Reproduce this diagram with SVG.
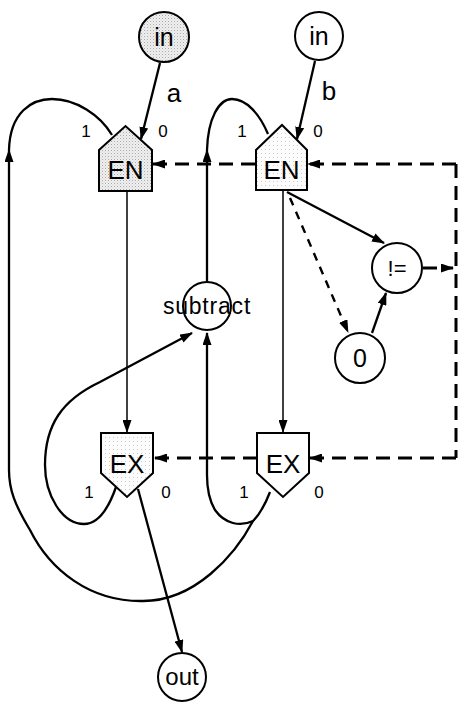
<svg xmlns="http://www.w3.org/2000/svg" width="459" height="702" viewBox="0 0 459 702">
<defs>
<marker id="ah" markerUnits="userSpaceOnUse" markerWidth="13" markerHeight="9" refX="12" refY="4.5" orient="auto"><path d="M0,0 L13,4.5 L0,9 z" fill="#000"/></marker>
<pattern id="stip" width="3" height="3" patternUnits="userSpaceOnUse"><rect width="3" height="3" fill="#f0f0f0"/><rect x="0" y="0" width="1" height="1" fill="#a8a8a8"/><rect x="1.5" y="1.5" width="1" height="1" fill="#c8c8c8"/></pattern>
<pattern id="stip2" width="4" height="4" patternUnits="userSpaceOnUse"><rect width="4" height="4" fill="#fcfcfc"/><rect x="1" y="1" width="1" height="1" fill="#cccccc"/></pattern>
</defs>
<style>
.n{stroke:#000;stroke-width:2;fill:#fff}
.g{fill:url(#stip)}
.g2{fill:url(#stip2)}
.t{font-family:"Liberation Sans",Arial,sans-serif;fill:#000;text-anchor:middle}
.c{fill:none;stroke:#000;stroke-width:2.3}
.thin{fill:none;stroke:#000;stroke-width:1.5}
.d{fill:none;stroke:#000;stroke-width:3;stroke-dasharray:14 8}
.ds{fill:none;stroke:#000;stroke-width:2.4;stroke-dasharray:8 7}
.l{font-size:17px}
</style>
<rect width="459" height="702" fill="#fff"/>
<g id="connectors">
<line class="c" x1="160" y1="63" x2="141" y2="139" marker-end="url(#ah)"/>
<line class="c" x1="315" y1="61" x2="297" y2="139" marker-end="url(#ah)"/>
<line class="thin" x1="127" y1="191" x2="127" y2="432" marker-end="url(#ah)"/>
<line class="thin" x1="283" y1="190" x2="283" y2="432" marker-end="url(#ah)"/>
<line class="c" x1="287" y1="192" x2="384" y2="243" stroke-width="2.6" marker-end="url(#ah)"/>
<line class="ds" x1="290" y1="198" x2="348" y2="332" marker-end="url(#ah)"/>
<line class="c" x1="372" y1="333" x2="386" y2="293" marker-end="url(#ah)"/>
<line class="d" x1="423" y1="268" x2="453" y2="268" stroke-dasharray="10 6" marker-end="url(#ah)"/>
<path class="d" d="M456,164 L456,458"/>
<path class="d" d="M456,164 L308,164" marker-end="url(#ah)"/>
<path class="d" d="M255,164 L153,164" marker-end="url(#ah)"/>
<path class="d" d="M456,458 L310,458" marker-end="url(#ah)"/>
<path class="d" d="M257,458 L155,458" marker-end="url(#ah)"/>
<line class="c" x1="138" y1="489" x2="182" y2="652" stroke-width="1.8" marker-end="url(#ah)"/>
<path class="c" d="M116,487 C108,510 98,524 84,524 C62,524 45,495 45,465 C45,425 62,400 100,382 L192,333" stroke-width="2.6" marker-end="url(#ah)"/>
<path class="c" d="M270,492 C265,505 260,514 253,521 C240,527 225,524 215,510 C209,500 207,490 207,475 L207,333" marker-end="url(#ah)"/>
<path class="c" d="M253,521 C235,555 195,601 143,601 C90,602 50,570 30,530 C15,505 9,490 9,470 L9,150" marker-end="url(#ah)"/>
<path class="c" d="M9,150 C10,112 32,99 52,99 C76,99 100,115 112,135" stroke-width="2.6"/>
<line class="c" x1="207" y1="282" x2="207" y2="150" marker-end="url(#ah)"/>
<path class="c" d="M207,150 C208,118 219,99 232,99 C247,99 260,115 268,134" stroke-width="2.6"/>
</g>
<g id="in_a"><circle class="n g" cx="164" cy="37" r="25"/><text class="t" x="164" y="46" font-size="25">in</text></g>
<g id="in_b"><circle class="n" cx="319" cy="36" r="24"/><text class="t" x="319" y="45" font-size="25">in</text></g>
<g id="en_a"><polygon class="n g" points="99,150 125.5,126 152,150 152,191 99,191"/><text class="t" x="125.5" y="179" font-size="26">EN</text></g>
<g id="en_b"><polygon class="n g2" points="256,150 282,125 307,150 307,190 256,190"/><text class="t" x="281.5" y="179" font-size="26">EN</text></g>
<g id="subtract"><circle class="n" cx="207" cy="306" r="24"/><text class="t" x="207" y="314" font-size="23" letter-spacing="0.8">subtract</text></g>
<g id="neq"><circle class="n" cx="397" cy="268" r="25"/><text class="t" x="397" y="276" font-size="22">!=</text></g>
<g id="zero"><circle class="n" cx="360" cy="358" r="25"/><text class="t" x="360" y="367" font-size="25">0</text></g>
<g id="ex_a"><polygon class="n g2" points="101,433 153,433 153,473 127,497 101,473"/><text class="t" x="127" y="473" font-size="26">EX</text></g>
<g id="ex_b"><polygon class="n" points="257,433 309,433 309,473 283,497 257,473"/><text class="t" x="283" y="473" font-size="26">EX</text></g>
<g id="out"><circle class="n" cx="182" cy="677" r="24"/><text class="t" x="182" y="685" font-size="24">out</text></g>
<g id="labels">
<text class="t" x="174" y="102" font-size="26">a</text>
<text class="t" x="329" y="100" font-size="26">b</text>
<text class="t l" x="86" y="137">1</text>
<text class="t l" x="163" y="137">0</text>
<text class="t l" x="242" y="137">1</text>
<text class="t l" x="318" y="137">0</text>
<text class="t l" x="89" y="498">1</text>
<text class="t l" x="166" y="498">0</text>
<text class="t l" x="244" y="498">1</text>
<text class="t l" x="319" y="498">0</text>
</g>
</svg>
